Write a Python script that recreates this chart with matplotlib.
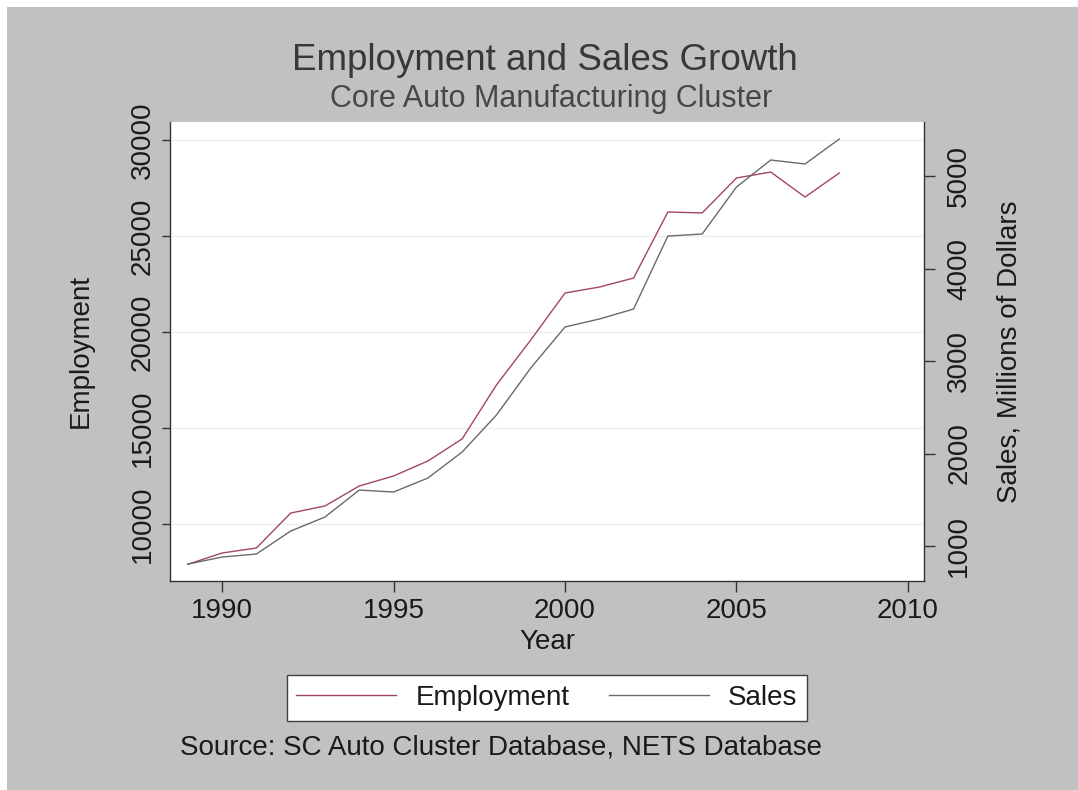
import numpy as np
import matplotlib.pyplot as plt
from matplotlib.patches import Rectangle

plt.rcParams['font.family'] = ['Liberation Sans', 'DejaVu Sans']

# data
years = np.arange(1989, 2009)
employment = [7900, 8490, 8750, 10570, 10940, 11980, 12500, 13280, 14430, 17240,
              19580, 22030, 22340, 22810, 26250, 26200, 28020, 28330, 27030, 28280]
sales = [805, 881, 914, 1162, 1314, 1605, 1584, 1735, 2016, 2416,
         2924, 3368, 3454, 3562, 4351, 4373, 4881, 5173, 5130, 5400]

xticks = [1990, 1995, 2000, 2005, 2010]
emp_ticks = [10000, 15000, 20000, 25000, 30000]
sales_ticks = [1000, 2000, 3000, 4000, 5000]

W, H = 1078, 790
fig = plt.figure(figsize=(W / 100, H / 100), dpi=100, facecolor='white')
# grey graph region (small white margin top/left like the source image)
fig.patches.append(Rectangle((7 / W, 0), 1, 1 - 7 / H, transform=fig.transFigure,
                             facecolor='#c1c1c1', edgecolor='none', zorder=-1))

ax = fig.add_axes([170 / W, 1 - 581 / H, 754 / W, 459 / H])
ax.set_facecolor('white')
ax2 = ax.twinx()

dark = '#333333'
emp_color = '#a3456a'
sales_color = '#6a6a6a'

l1, = ax.plot(years, employment, color=emp_color, lw=1.0, label='Employment')
l2, = ax2.plot(years, sales, color=sales_color, lw=1.0, label='Sales')

ax.set_xlim(1988.48, 2010.47)
ax.set_ylim(7031, 30937)
ax2.set_ylim(622, 5584)

ax.set_xticks(xticks)
ax.set_yticks(emp_ticks)
ax2.set_yticks(sales_ticks)
ax.set_yticklabels([str(t) for t in emp_ticks], rotation=90, va='center')
ax2.set_yticklabels([str(t) for t in sales_ticks], rotation=90, va='center')

ax.yaxis.grid(True, color='#efefef', lw=1)
ax.set_axisbelow(True)

for a in (ax, ax2):
    a.spines['top'].set_visible(False)
    for s in a.spines.values():
        s.set_color(dark)
        s.set_linewidth(1)
ax.spines['right'].set_visible(False)
ax2.spines['left'].set_visible(False)
ax2.spines['bottom'].set_visible(False)

ax.tick_params(axis='x', length=8, width=1, color=dark, pad=4, labelsize=20, labelcolor='#1a1a1a')
ax.tick_params(axis='y', length=6, width=1, color=dark, pad=4, labelsize=20, labelcolor='#1a1a1a')
ax2.tick_params(axis='y', length=8, width=1, color=dark, pad=8, labelsize=20, labelcolor='#1a1a1a')

ax.set_xlabel('Year', fontsize=20, color='#1a1a1a')
ax.xaxis.set_label_coords(0.5, -0.105)
ax.set_ylabel('Employment', fontsize=20, color='#1a1a1a', va='center')
ax.yaxis.set_label_coords(-0.119, 0.5)
ax2.set_ylabel('Sales, Millions of Dollars', fontsize=20, color='#1a1a1a', va='center')
ax2.yaxis.set_label_coords(1.114, 0.5)

fig.text(545 / W, 1 - 60 / H, 'Employment and Sales Growth', ha='center', va='center',
         fontsize=26.5, color='#383838')
fig.text(551 / W, 1 - 99 / H, 'Core Auto Manufacturing Cluster', ha='center', va='center',
         fontsize=22, color='#474747')

leg = fig.legend(handles=[l1, l2], loc='center', bbox_to_anchor=(547 / W, 1 - 698 / H),
                 ncol=2, fontsize=20, frameon=True, fancybox=False, framealpha=1,
                 facecolor='white', edgecolor='#404040', handlelength=3.6,
                 handletextpad=0.7, columnspacing=1.4, borderpad=0.35)
leg.get_frame().set_linewidth(1)
for t in leg.get_texts():
    t.set_color('#1a1a1a')

fig.text(501 / W, 1 - 748 / H, 'Source: SC Auto Cluster Database, NETS Database',
         ha='center', va='center', fontsize=20, color='#1a1a1a')

fig.savefig('out.png', dpi=100, facecolor=fig.get_facecolor())
